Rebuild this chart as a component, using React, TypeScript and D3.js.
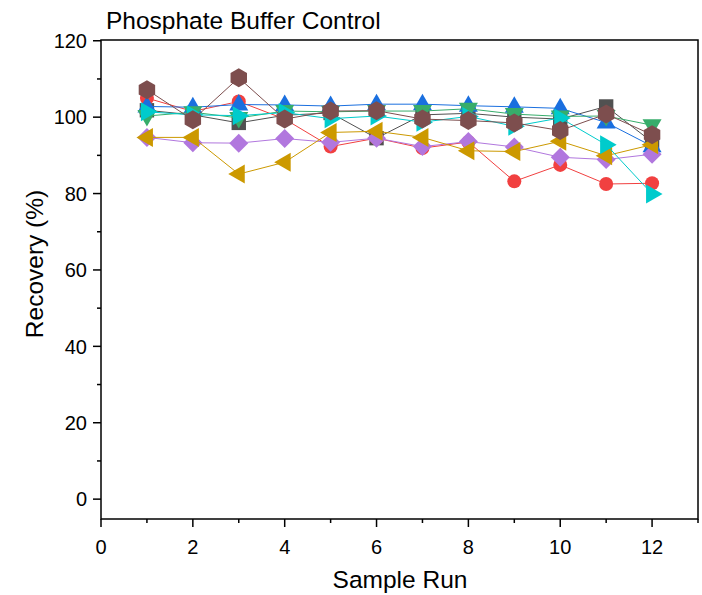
import React from "react";
import * as d3 from "d3";

const runs = [1, 2, 3, 4, 5, 6, 7, 8, 9, 10, 11, 12];
const graySq = [101.8, 100.6, 98.5, 100.5, 101.1, 94.5, 100.6, 101.0, 100.0, 99.5, 102.8, 93.5];
const redCircle = [105.0, 101.5, 104.1, 99.5, 92.3, 94.5, 91.9, 93.5, 83.2, 87.5, 82.5, 82.7];
const blueUp = [102.8, 102.6, 103.3, 103.2, 102.9, 103.4, 103.4, 103.0, 102.7, 102.3, 98.6, 92.4];
const greenDown = [100.3, 101.3, 99.8, 101.6, 101.4, 101.6, 101.6, 102.2, 100.8, 100.2, 100.3, 97.9];
const purpleDiamond = [94.7, 93.3, 93.2, 94.4, 93.4, 94.5, 92.3, 93.6, 92.2, 89.5, 88.9, 90.3];
const goldLeft = [94.7, 94.7, 85.1, 88.2, 96.0, 96.3, 94.7, 91.2, 91.0, 93.7, 89.9, 92.8];
const cyanRight = [101.4, 100.6, 100.4, 101.2, 99.6, 100.3, 98.7, 100.2, 97.6, 99.8, 92.8, 79.9];
const brownHex = [107.2, 99.3, 110.3, 99.5, 101.6, 101.7, 99.5, 99.1, 98.5, 96.5, 100.8, 95.4];

const yTicks = [0, 20, 40, 60, 80, 100, 120];
const xTicks = [0, 2, 4, 6, 8, 10, 12];

const series = [
  { name: "gray", color: "#515151", shape: "square", values: graySq },
  { name: "red", color: "#f14040", shape: "circle", values: redCircle },
  { name: "blue", color: "#1a6fdf", shape: "up", values: blueUp },
  { name: "green", color: "#37ad6b", shape: "down", values: greenDown },
  { name: "purple", color: "#b177de", shape: "diamond", values: purpleDiamond },
  { name: "gold", color: "#cc9900", shape: "left", values: goldLeft },
  { name: "cyan", color: "#00cbcc", shape: "right", values: cyanRight },
  { name: "brown", color: "#7d4e4e", shape: "hex", values: brownHex },
];

const W = 702;
const H = 595;
const L = 101;
const R = 698;
const T = 40;
const B = 519;

function markerPath(shape: string, s: number): string {
  const pts = (arr: number[][]) => "M" + arr.map((p) => p.join(",")).join("L") + "Z";
  switch (shape) {
    case "square":
      return pts([[-s * 0.8, -s * 0.8], [s * 0.8, -s * 0.8], [s * 0.8, s * 0.8], [-s * 0.8, s * 0.8]]);
    case "circle":
      return d3.symbol(d3.symbolCircle, Math.PI * 7 * 7)() as string;
    case "up":
      return pts([[0, -s * 1.05], [s * 0.95, s * 0.6], [-s * 0.95, s * 0.6]]);
    case "down":
      return pts([[0, s * 1.05], [s * 0.95, -s * 0.6], [-s * 0.95, -s * 0.6]]);
    case "left":
      return pts([[-s * 1.05, 0], [s * 0.6, -s * 0.95], [s * 0.6, s * 0.95]]);
    case "right":
      return pts([[s * 1.05, 0], [-s * 0.6, -s * 0.95], [-s * 0.6, s * 0.95]]);
    case "diamond":
      return pts([[0, -s], [s, 0], [0, s], [-s, 0]]);
    case "hex": {
      const a: number[][] = [];
      for (let i = 0; i < 6; i++) {
        const ang = (Math.PI / 3) * i - Math.PI / 2;
        a.push([s * Math.cos(ang), s * Math.sin(ang)]);
      }
      return pts(a);
    }
  }
  return "";
}

export default function App() {
  const x = d3.scaleLinear().domain([0, 13]).range([L, R]);
  const y = d3.scaleLinear().domain([-5.2, 120.2]).range([B, T]);
  const line = d3
    .line<number>()
    .x((_, i) => x(runs[i]))
    .y((v) => y(v));
  const font = "Arial, 'Liberation Sans', sans-serif";
  const yMinor = d3.range(10, 121, 20);
  const xMinor = d3.range(1, 14, 2);

  return (
    <svg width={W} height={H} style={{ position: "absolute", left: 0, top: 0 }} fontFamily={font}>
      <rect x={0} y={0} width={W} height={H} fill="#fff" />
      <text x={106} y={29} fontSize={24.5} fill="#000">Phosphate Buffer Control</text>

      {series.map((s) => (
        <g key={s.name}>
          <path d={line(s.values) as string} fill="none" stroke={s.color} strokeWidth={1} />
          {s.values.map((v, i) => (
            <path
              key={i}
              d={markerPath(s.shape, s.shape === "hex" ? 9.5 : s.shape === "diamond" ? 9.5 : s.shape === "square" ? 9 : 10)}
              transform={`translate(${x(runs[i])},${y(v)})`}
              fill={s.color}
            />
          ))}
        </g>
      ))}

      <rect x={L} y={T} width={R - L} height={B - T} fill="none" stroke="#000" strokeWidth={1.5} />

      {yTicks.map((t) => (
        <g key={"y" + t}>
          <line x1={L - 8} x2={L} y1={y(t)} y2={y(t)} stroke="#000" strokeWidth={1.5} />
          <text x={L - 14} y={y(t)} dy="0.36em" textAnchor="end" fontSize={20}>{t}</text>
        </g>
      ))}
      {yMinor.map((t) => (
        <line key={"ym" + t} x1={L - 4} x2={L} y1={y(t)} y2={y(t)} stroke="#000" strokeWidth={1.5} />
      ))}
      {xTicks.map((t) => (
        <g key={"x" + t}>
          <line x1={x(t)} x2={x(t)} y1={B} y2={B + 8} stroke="#000" strokeWidth={1.5} />
          <text x={x(t)} y={554} textAnchor="middle" fontSize={20}>{t}</text>
        </g>
      ))}
      {xMinor.map((t) => (
        <line key={"xm" + t} x1={x(t)} x2={x(t)} y1={B} y2={B + 4} stroke="#000" strokeWidth={1.5} />
      ))}

      <text x={400} y={588} textAnchor="middle" fontSize={24.5}>Sample Run</text>
      <text transform={`translate(43,264) rotate(-90)`} textAnchor="middle" fontSize={24.5}>Recovery (%)</text>
    </svg>
  );
}
